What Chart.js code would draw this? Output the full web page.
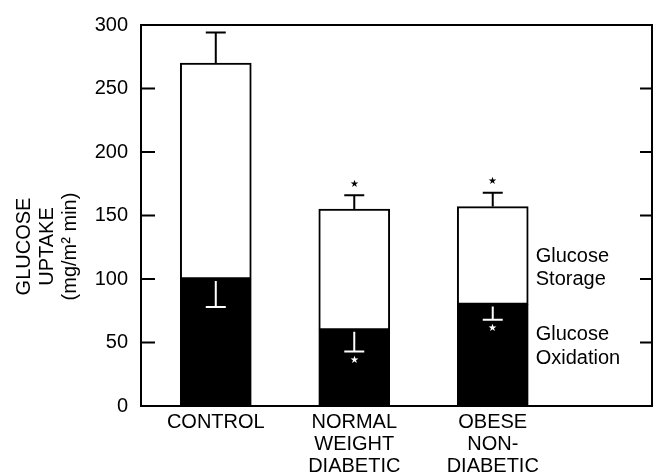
<!DOCTYPE html>
<html>
<head>
<meta charset="utf-8">
<script src="https://cdn.jsdelivr.net/npm/chart.js@4"></script>
<style>
  body { margin: 0; background: #fff; }
  canvas { display: block; }
</style>
</head>
<body>
<canvas id="myChart" width="657" height="476"></canvas>
<script>
const groups = [['CONTROL'], ['NORMAL', 'WEIGHT', 'DIABETIC'], ['OBESE', 'NON-', 'DIABETIC']];
const oxidation = [100, 60, 80];
const storage = [170, 95, 77];
const totalError = [24, 11, 11];      // SE on top of the whole bar
const oxidationError = [22, 17, 12];  // SE on oxidation part (drawn downward)
const significant = [false, true, true];
const yTicks = [0, 50, 100, 150, 200, 250, 300];
const seriesNames = [['Glucose', 'Oxidation'], ['Glucose', 'Storage']];
const yTitle = ['GLUCOSE', 'UPTAKE', '(mg/m\u00B2 min)'];

const FONT = "'Liberation Sans', Arial, Helvetica, sans-serif";
Chart.defaults.font.family = FONT;
Chart.defaults.font.size = 20;
Chart.defaults.color = '#000';

const points = arr => arr.map((v, i) => ({ x: i, y: v }));

// box, inward ticks, error bars, asterisks, series names, y title
const extras = {
    id: 'extras',
    afterDatasetsDraw(chart) {
        const ctx = chart.ctx;
        const area = chart.chartArea;
        const xs = chart.scales.x;
        const ys = chart.scales.y;
        ctx.save();
        ctx.strokeStyle = '#000';
        ctx.lineWidth = 2;
        ctx.beginPath();
        ctx.moveTo(area.left, area.top);
        ctx.lineTo(area.right, area.top);
        ctx.lineTo(area.right, area.bottom);
        ctx.stroke();

        yTicks.forEach(t => {
            if (t === 0 || t === 300) return;
            const y = ys.getPixelForValue(t);
            ctx.beginPath();
            ctx.moveTo(area.left, y);
            ctx.lineTo(area.left + 14, y);
            ctx.moveTo(area.right, y);
            ctx.lineTo(area.right - 12, y);
            ctx.stroke();
        });

        const cap = 10;
        groups.forEach((g, i) => {
            const x = xs.getPixelForValue(i);
            const total = oxidation[i] + storage[i];
            const yTop = ys.getPixelForValue(total);
            const yUp = ys.getPixelForValue(total + totalError[i]);
            ctx.strokeStyle = '#000';
            ctx.beginPath();
            ctx.moveTo(x, yTop);
            ctx.lineTo(x, yUp);
            ctx.moveTo(x - cap, yUp);
            ctx.lineTo(x + cap, yUp);
            ctx.stroke();

            const yOx = ys.getPixelForValue(oxidation[i]);
            const yLow = ys.getPixelForValue(oxidation[i] - oxidationError[i]);
            ctx.strokeStyle = '#fff';
            ctx.beginPath();
            ctx.moveTo(x, yOx + 2);
            ctx.lineTo(x, yLow);
            ctx.moveTo(x - cap, yLow);
            ctx.lineTo(x + cap, yLow);
            ctx.stroke();

            if (significant[i]) {
                ctx.font = '10px ' + FONT;
                ctx.textAlign = 'center';
                ctx.textBaseline = 'middle';
                ctx.fillStyle = '#000';
                ctx.fillText('\u2605', x, yUp - 11);
                ctx.fillStyle = '#fff';
                ctx.fillText('\u2605', x, yLow + 9);
            }
        });

        // series names next to the last bar
        const last = groups.length - 1;
        const tx = xs.getPixelForValue(last) + 43;
        ctx.fillStyle = '#000';
        ctx.font = '20px ' + FONT;
        ctx.textAlign = 'left';
        ctx.textBaseline = 'middle';
        const storageMid = ys.getPixelForValue(109);
        const oxidationMid = ys.getPixelForValue(47);
        seriesNames[1].forEach((line, k) => ctx.fillText(line, tx, storageMid + (k - 0.5) * 23));
        seriesNames[0].forEach((line, k) => ctx.fillText(line, tx, oxidationMid + (k - 0.5) * 24));

        // y axis title
        ctx.translate(47, (area.top + area.bottom) / 2 + 31);
        ctx.rotate(-Math.PI / 2);
        ctx.textAlign = 'center';
        yTitle.forEach((line, k) => ctx.fillText(line, 0, (k - 1) * 23));
        ctx.restore();
    }
};

const ctx = document.getElementById('myChart').getContext('2d');
const myChart = new Chart(ctx, {
    type: 'bar',
    data: {
        datasets: [{
            label: seriesNames[0].join(' '),
            data: points(oxidation),
            backgroundColor: '#000',
            borderColor: '#000',
            borderWidth: 2,
            borderSkipped: false,
            barThickness: 71
        }, {
            label: seriesNames[1].join(' '),
            data: points(storage),
            backgroundColor: '#fff',
            borderColor: '#000',
            borderWidth: 2,
            borderSkipped: false,
            barThickness: 71
        }]
    },
    options: {
        responsive: false,
        animation: false,
        layout: { padding: { top: 20, right: 5, left: 0, bottom: 0 } },
        plugins: { legend: { display: false }, tooltip: { enabled: false } },
        scales: {
            x: {
                type: 'linear',
                stacked: true,
                offset: false,
                min: -0.54,
                max: 3.15,
                grid: { display: false, drawTicks: false, offset: false },
                border: { display: true, width: 2, color: '#000' },
                afterBuildTicks: scale => { scale.ticks = groups.map((g, i) => ({ value: i })); },
                afterFit: scale => { scale.height = 70; },
                ticks: {
                    padding: 5,
                    maxRotation: 0,
                    autoSkip: false,
                    font: { size: 20, lineHeight: 1.1 },
                    callback: value => groups[value]
                }
            },
            y: {
                stacked: true,
                min: 0,
                max: 300,
                grid: { display: false, drawTicks: false },
                border: { display: true, width: 2, color: '#000' },
                afterBuildTicks: scale => { scale.ticks = yTicks.map(v => ({ value: v })); },
                afterFit: scale => { scale.width = 141; },
                ticks: { padding: 13, font: { size: 20 } }
            }
        }
    },
    plugins: [extras]
});
</script>
</body>
</html>
